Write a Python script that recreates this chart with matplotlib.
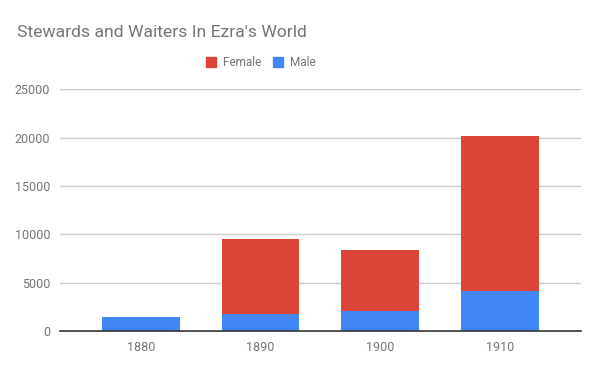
import matplotlib
matplotlib.use("Agg")
import matplotlib.pyplot as plt
from matplotlib.patches import Patch
import numpy as np

plt.rcParams['font.family'] = ['Roboto', 'DejaVu Sans']

years = ["1880", "1890", "1900", "1910"]
male = [1450, 1800, 2070, 4100]
female = [0, 7730, 6330, 16100]
yticks = [0, 5000, 10000, 15000, 20000, 25000]

c_female = "#DB4437"
c_male = "#4285F4"
grey = "#757575"

fig = plt.figure(figsize=(6, 3.71), dpi=100)
ax = fig.add_axes([0.1, 0.1078, 0.868, 0.6515])

x = np.arange(len(years))
ax.bar(x, male, width=0.65, color=c_male, zorder=3, label="Male")
ax.bar(x, female, width=0.65, bottom=male, color=c_female, zorder=3, label="Female")

ax.set_xlim(-0.677, len(years) - 1 + 0.677)
ax.set_ylim(0, 25000)
ax.set_yticks(yticks)
ax.set_yticklabels([str(v) for v in yticks])
ax.set_xticks(x)
ax.set_xticklabels(years)
ax.grid(axis='y', color="#cccccc", linewidth=1, zorder=0)
for s in ['top', 'right', 'left']:
    ax.spines[s].set_visible(False)
ax.spines['bottom'].set_color("#333333")
ax.spines['bottom'].set_linewidth(1.2)
ax.spines['bottom'].set_zorder(4)
ax.tick_params(axis='both', length=0, colors=grey, labelsize=9)
ax.tick_params(axis='y', pad=7)
ax.tick_params(axis='x', pad=7)

fig.text(0.028, 0.913, "Stewards and Waiters In Ezra's World", fontsize=12.6,
         color=grey, ha='left', va='center')

handles = [Patch(color=c_female, label="Female"), Patch(color=c_male, label="Male")]
leg = fig.legend(handles=handles, loc='center', bbox_to_anchor=(0.435, 0.832),
                 ncol=2, frameon=False, fontsize=8.5, handlelength=0.85,
                 handleheight=0.9, handletextpad=0.6, columnspacing=1.0)
for t in leg.get_texts():
    t.set_color(grey)

fig.savefig("out.png", dpi=100)
